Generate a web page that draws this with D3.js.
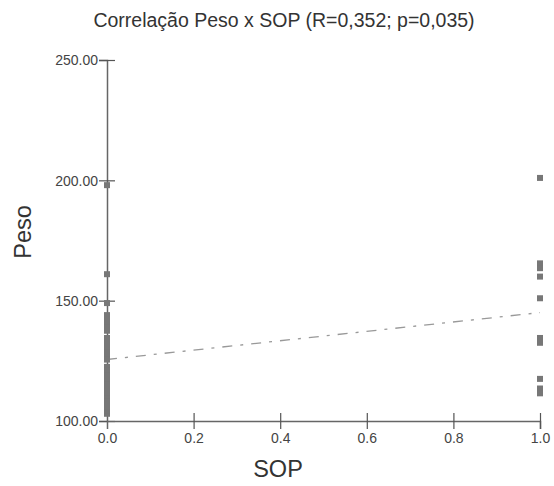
<!DOCTYPE html>
<html>
<head>
<meta charset="utf-8">
<script src="https://cdn.jsdelivr.net/npm/d3@7/dist/d3.min.js"></script>
<style>
  body { margin: 0; background: #fff; }
  svg { display: block; font-family: "Liberation Sans", Arial, sans-serif; }
</style>
</head>
<body>
<svg id="chart" width="554" height="486"></svg>
<script>
// Peso (weight) for each group of SOP (0 = no, 1 = yes)
const pesoSop0 = [198, 161, 149, 144, 142.5, 141, 139, 137.5, 134.5, 132.5, 130.5, 128.5,
  127, 125.5, 122.5, 121, 119, 117, 115, 113, 109, 107, 105, 103, 103.5, 104.5, 106, 108, 110.5, 112];
const pesoSop1 = [201, 165.5, 163.5, 160, 151, 134.5, 132.5, 117.5, 113.5, 111.5];
const xTicks = [0, 0.2, 0.4, 0.6, 0.8, 1.0];
const yTicks = [100, 150, 200, 250];
const titleText = "Correlação Peso x SOP (R=0,352; p=0,035)";

const points = pesoSop0.map(v => ({ sop: 0, peso: v }))
  .concat(pesoSop1.map(v => ({ sop: 1, peso: v })));

const svg = d3.select("#chart");
const x = d3.scaleLinear().domain([0, 1]).range([107, 540]);
const y = d3.scaleLinear().domain([100, 250]).range([421, 60]);

// least-squares fit of Peso on SOP
const mx = d3.mean(points, d => d.sop);
const my = d3.mean(points, d => d.peso);
const sxy = d3.sum(points, d => (d.sop - mx) * (d.peso - my));
const sxx = d3.sum(points, d => (d.sop - mx) ** 2);
const slope = sxy / sxx;
const intercept = my - slope * mx;
const fit = [0, 1].map(s => ({ sop: s, peso: intercept + slope * s }));

// title
svg.append("text")
  .attr("x", 284).attr("y", 27)
  .attr("text-anchor", "middle")
  .attr("font-size", 19.5).attr("fill", "#333")
  .text(titleText);

// y axis
const gy = svg.append("g").attr("transform", `translate(${x(0)},0)`)
  .call(d3.axisLeft(y).tickValues(yTicks).tickFormat(d3.format(".2f")).tickSizeOuter(0).tickSize(8));
gy.select(".domain").attr("stroke", "#666").attr("stroke-width", 1.5);
gy.selectAll(".tick line").attr("x1", -8).attr("x2", 8).attr("stroke", "#555").attr("stroke-width", 1.2);
gy.selectAll(".tick text").attr("x", -9).attr("dy", "0.35em").attr("font-size", 14).attr("fill", "#444")
  .attr("font-family", "Liberation Sans, Arial, sans-serif");

// x axis
const gx = svg.append("g").attr("transform", `translate(0,${y(100)})`)
  .call(d3.axisBottom(x).tickValues(xTicks).tickFormat(d3.format(".1f")).tickSizeOuter(0).tickSize(8));
gx.select(".domain").attr("stroke", "#666").attr("stroke-width", 1.5);
gx.selectAll(".tick line").attr("y1", -8).attr("y2", 8).attr("stroke", "#555").attr("stroke-width", 1.2);
gx.selectAll(".tick").filter(d => d === 0).select("line").remove();
gx.selectAll(".tick text").attr("y", 12).attr("font-size", 14).attr("fill", "#444")
  .attr("font-family", "Liberation Sans, Arial, sans-serif");

// axis titles
svg.append("text")
  .attr("x", 278).attr("y", 477)
  .attr("text-anchor", "middle")
  .attr("font-size", 23.5).attr("fill", "#333")
  .text("SOP");
svg.append("text")
  .attr("transform", "translate(31,232) rotate(-90)")
  .attr("text-anchor", "middle")
  .attr("font-size", 23.5).attr("fill", "#333")
  .text("Peso");

// regression line
svg.append("path")
  .datum(fit)
  .attr("d", d3.line().x(d => x(d.sop)).y(d => y(d.peso)))
  .attr("fill", "none")
  .attr("stroke", "#999")
  .attr("stroke-width", 1.3)
  .attr("stroke-dasharray", "10,8,3,8");

// data points
svg.append("g").selectAll("rect")
  .data(points)
  .join("rect")
  .attr("x", d => x(d.sop) - 3)
  .attr("y", d => y(d.peso) - 3)
  .attr("width", 6).attr("height", 6)
  .attr("fill", "#777");
</script>
</body>
</html>
